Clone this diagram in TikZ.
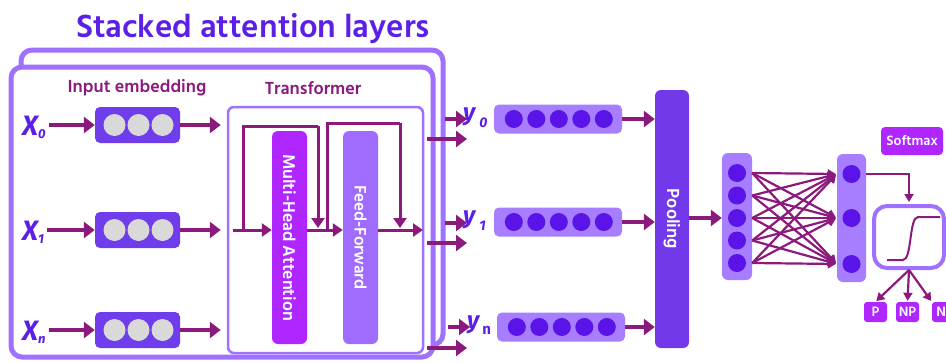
\documentclass[tikz,border=0pt]{standalone}
\usepackage{fontspec}
\setmainfont{Hind Siliguri}
\newfontfamily\labfont{Fira Sans}
\usetikzlibrary{arrows.meta,calc}
\definecolor{tpurple}{HTML}{5B1FE8}
\definecolor{framec}{HTML}{A070FF}
\definecolor{arr}{HTML}{8C1A7C}
\definecolor{emb}{HTML}{6F3DEB}
\definecolor{gcir}{HTML}{D9D9D9}
\definecolor{mhac}{HTML}{B026FF}
\definecolor{ffc}{HTML}{9F6CFF}
\definecolor{vecc}{HTML}{A67EFF}
\definecolor{dcir}{HTML}{5B14E8}
\definecolor{poolc}{HTML}{7139E9}
\tikzset{
  bigarrow/.style={draw=arr, line width=4pt, -{Triangle[length=11pt,width=16pt]}},
  midarrow/.style={draw=arr, line width=3pt, -{Triangle[length=10pt,width=13pt]}},
  thinarrow/.style={draw=arr, line width=2.2pt, -{Triangle[length=8pt,width=9pt]}},
  resline/.style={draw=arr, line width=3pt},
  embbox/.style={fill=emb, rounded corners=5pt, minimum width=85pt, minimum height=36pt, inner sep=0pt},
  gcirc/.style={circle, fill=gcir, minimum size=22pt, inner sep=0pt},
  vecbox/.style={fill=vecc, rounded corners=5pt, minimum width=128pt, minimum height=29pt, inner sep=0pt},
  dcirc/.style={circle, fill=dcir, minimum size=18pt, inner sep=0pt},
  headlab/.style={text=arr, font=\fontsize{18}{18}\selectfont\bfseries},
  xlab/.style={text=tpurple, font=\labfont\fontsize{28}{28}\selectfont\bfseries\itshape, inner sep=0pt},
  ylab/.style={text=tpurple, font=\labfont\fontsize{24}{24}\selectfont\bfseries\itshape, inner sep=0pt},
  bartext/.style={text=white, font=\fontsize{17.5}{17.5}\selectfont\bfseries, rotate=-90},
  smallbox/.style={fill=mhac, rounded corners=3pt, text=white, font=\fontsize{14}{14}\selectfont\bfseries, inner sep=0pt}
}
\newcommand{\subs}[1]{{\fontsize{13}{13}\selectfont #1}}
\begin{document}
\begin{tikzpicture}[x=1pt,y=-1pt]
\useasboundingbox (0,0) rectangle (946,362);
\clip (0,0) rectangle (946,362);
% title
\node[text=tpurple, font=\fontsize{33}{33}\selectfont\bfseries, anchor=base, inner sep=0pt] (title) at (253,37) {Stacked attention layers};
% frames
\draw[draw=framec, line width=5pt, rounded corners=11pt, fill=white] (21,50) rectangle (443,345);
\draw[draw=framec, line width=5pt, rounded corners=11pt, fill=white] (11,67) rectangle (433,357);
% headings
\node[headlab] (lembed) at (137,88) {Input embedding};
\node[headlab] (ltrans) at (313,88) {Transformer};
% transformer box
\node[draw=framec, line width=2.5pt, rounded corners=6pt, minimum width=195pt, minimum height=246pt, inner sep=0pt] (tr) at (325.5,230) {};
% embeddings and inputs
\foreach \r/\y/\s in {0/125/0, 1/230/1, n/330/n}{
  \node[embbox] (e\r) at (137.5,\y) {};
  \foreach \k/\dx in {1/-23,2/1,3/25}{
    \node[gcirc] (e\r c\k) at ($(e\r)+(\dx,0)$) {};
  }
  \node[xlab, anchor=base west] (x\r) at (22,\y+10) {X\raisebox{-3pt}{\subs{\s}}};
  \draw[bigarrow] (x\r.east |- e\r) ++(3,0) coordinate (xs\r) -- (e\r.west);
  \draw[bigarrow, shorten >=6pt] (e\r.east) -- (tr.west |- e\r);
}
% MHA and FF
\node[fill=mhac, rounded corners=6pt, minimum width=35pt, minimum height=213pt, inner sep=0pt] (mha) at (289.5,237.5) {};
\node[bartext] (mhat) at (mha.center) {Multi-Head Attention};
\node[fill=ffc, rounded corners=6pt, minimum width=35pt, minimum height=213pt, inner sep=0pt] (ff) at (360.5,237.5) {};
\node[bartext, font=\fontsize{17}{17}\selectfont\bfseries] (fft) at (ff.center) {Feed-Forward};
% transformer internal flow
\coordinate (tin) at (233,230);
\coordinate (r1a) at (243,230);
\coordinate (r1b) at (318,126);
\coordinate (r2a) at (327,230);
\coordinate (r2b) at (400,123);
\coordinate (tout) at (423,230);
\draw[midarrow] (tin) -- (mha.west |- tin);
\draw[resline] (r1a) |- (r1b);
\draw[midarrow] (r1b) -- (318,228);
\draw[midarrow] (mha.east |- tin) -- (ff.west |- tin);
\draw[resline] (r2a) |- (r2b);
\draw[midarrow] (r2b) -- (400,228);
\draw[midarrow] (ff.east |- tin) -- (tout);
% outputs from stacked layers
\foreach \r/\ya/\yb/\xa in {0/119/139/445, 1/223/243/445, n/327/348/448}{
  \coordinate (oa\r) at (\xa,\ya);
  \coordinate (oae\r) at (\xa+22,\ya);
  \coordinate (ob\r) at (427,\yb);
  \coordinate (obe\r) at (467,\yb);
  \draw[bigarrow] (oa\r) -- (oae\r);
  \draw[bigarrow] (ob\r) -- (obe\r);
}
% y labels
\node[ylab, anchor=base west] (y0) at (463,120) {y\kern4pt\raisebox{-7pt}{\fontsize{14}{14}\selectfont 0}};
\node[ylab, anchor=base west] (y1) at (463,223) {y\kern4pt\raisebox{-7pt}{\fontsize{14}{14}\selectfont 1}};
\node[ylab, anchor=base west] (yn) at (467,328) {y\kern3pt\raisebox{-6pt}{\fontsize{15}{15}\selectfont\upshape n}};
% output vectors
\node[fill=poolc, rounded corners=6pt, minimum width=34pt, minimum height=258pt, inner sep=0pt] (pool) at (672,219) {};
\node[bartext, font=\fontsize{18}{18}\selectfont\bfseries] (poolt) at (pool.center) {Pooling};
\foreach \r/\x/\y in {0/558/119, 1/558/222, n/561/327}{
  \node[vecbox] (v\r) at (\x,\y) {};
  \foreach \k in {0,...,4}{
    \node[dcirc] (v\r c\k) at ($(v\r.west)+(20+22.5*\k,0)$) {};
  }
  \draw[bigarrow, line width=3.5pt] (v\r.east) -- (pool.west |- v\r);
}
% dense layers
\node[fill=vecc, rounded corners=6pt, minimum width=30pt, minimum height=127pt, inner sep=0pt] (d1) at (737,216.5) {};
\foreach \k/\y in {1/173,2/195.5,3/218,4/240.5,5/263}{
  \node[dcirc] (d1c\k) at (737,\y) {};
}
\node[fill=vecc, rounded corners=6pt, minimum width=29pt, minimum height=128pt, inner sep=0pt] (d2) at (851.5,218) {};
\foreach \k/\y in {1/174,2/218,3/264}{
  \node[dcirc] (d2c\k) at (851.5,\y) {};
}
\draw[bigarrow, line width=3.5pt] (pool.east |- d1c3) -- (d1.west |- d1c3);
\foreach \i in {1,...,5}{
  \foreach \j in {1,2,3}{
    \draw[thinarrow, shorten >=1pt] (d1.east |- d1c\i) -- (d2.west |- d2c\j);
  }
}
% softmax
\node[smallbox, minimum width=62pt, minimum height=28pt, rounded corners=4pt] (smx) at (912,141) {Softmax};
\node[draw=framec, line width=4pt, rounded corners=13pt, minimum width=70pt, minimum height=62pt, inner sep=0pt] (sig) at (909,237) {};
\draw[arr, line width=2pt] (887,260) -- (903,260) .. controls (912,260) and (909,217) .. (918,217) -- (940,217);
\draw[thinarrow, shorten >=2pt] (d2.east |- d2c1) -| (sig.north);
% outputs
\node[smallbox, minimum width=23pt, minimum height=20pt] (pP) at (875.5,312) {P};
\node[smallbox, minimum width=23pt, minimum height=20pt] (pNP) at (907.5,312) {NP};
\node[smallbox, minimum width=26pt, minimum height=20pt] (pNN) at (945,312) {NP};
\draw[thinarrow, shorten >=1pt] (sig.south) -- (pP.north);
\draw[thinarrow, shorten >=1pt] (sig.south) -- (pNP.north);
\draw[thinarrow, shorten >=1pt] (sig.south) -- (pNN.north west);
\end{tikzpicture}
\end{document}
